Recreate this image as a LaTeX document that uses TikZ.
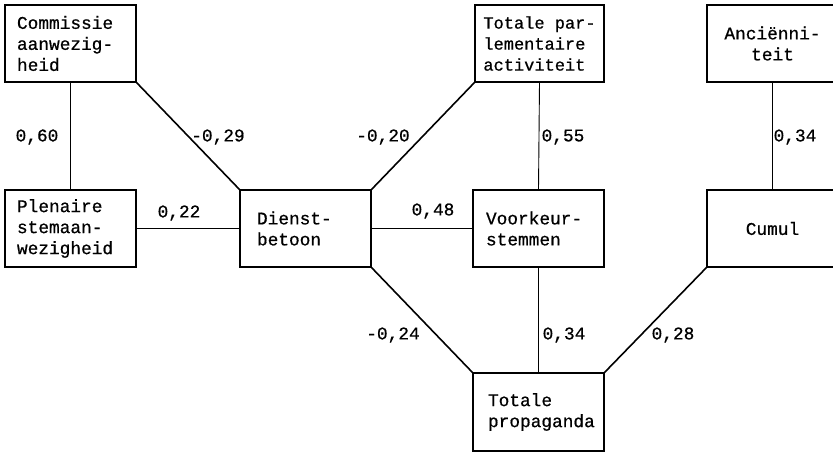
\documentclass[tikz,border=0pt]{standalone}
\usepackage{fontspec}
\setmainfont{Liberation Mono}[FakeBold=0.7]
\begin{document}
\begin{tikzpicture}[x=1pt,y=-1pt,
  font=\fontsize{17.8}{21}\selectfont,
  box/.style={draw,line width=1.1pt,minimum width=131pt,minimum height=77pt,
    inner xsep=12pt,text width=107pt,align=left},
  padx/.style={inner xsep=#1,text width=131pt-2*#1},
  cbox/.style={draw,line width=1.1pt,minimum width=131pt,minimum height=77pt,align=center},
  fbox/.style={draw,line width=1.1pt,minimum width=129pt,minimum height=77pt,align=left,
    inner xsep=4pt,font=\fontsize{17}{21}\selectfont},
  diag/.style={line width=1.6pt},
  strt/.style={line width=0.9pt},
  lab/.style={inner sep=0pt}]
\useasboundingbox (0,0) rectangle (833,453);
\clip (0,0) rectangle (833,453);
\node[box] (com) at (70.5,43.5) {Commissie\\aanwezig-\\heid};
\node[box] (ple) at (70.5,228.5) {Plenaire\\stemaan-\\wezigheid};
\node[box,padx=17pt] (dien) at (305.5,228.5) {Dienst-\\betoon};
\node[fbox] (tpa) at (539.5,43.5) {Totale par-\\lementaire\\activiteit};
\node[box,padx=13pt] (voo) at (538.5,228.5) {Voorkeur-\\stemmen};
\node[cbox] (anc) at (772.5,43.5) {Anciënni-\\teit};
\node[cbox] (cum) at (772.5,228.5) {Cumul};
\node[box,padx=15pt,minimum height=78pt] (tpr) at (538.5,412) {Totale\\propaganda};

\draw[strt] (com.south) -- (ple.north);
\draw[diag] (com.south east) -- (dien.north west);
\draw[strt] (ple.east) -- (dien.west);
\draw[diag] (dien.north east) -- (tpa.south west);
\draw[strt] (tpa.south) -- (voo.north);
\draw[strt] (dien.east) -- (voo.west);
\draw[strt] (anc.south) -- (cum.north);
\draw[diag] (dien.south east) -- (tpr.north west);
\draw[strt] (voo.south) -- (tpr.north);
\draw[diag] (cum.south west) -- (tpr.north east);

\node[lab] (l1) at (37,137) {0,60};
\node[lab] (l2) at (218,137) {-0,29};
\node[lab] (l3) at (383,137) {-0,20};
\node[lab] (l4) at (563,137) {0,55};
\node[lab] (l5) at (795,137) {0,34};
\node[lab] (l6) at (179,213) {0,22};
\node[lab] (l7) at (433,211) {0,48};
\node[lab] (l8) at (393,335) {-0,24};
\node[lab] (l9) at (564,335) {0,34};
\node[lab] (l10) at (673,335) {0,28};
\end{tikzpicture}
\end{document}
